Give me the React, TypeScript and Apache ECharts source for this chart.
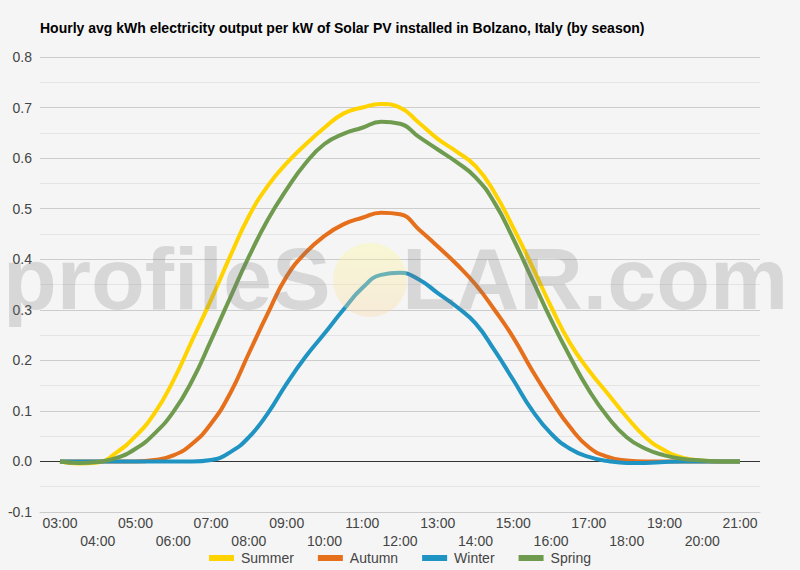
import React, { useEffect, useRef } from 'react';
import * as echarts from 'echarts';

// half-hourly time slots, 03:00 .. 21:00
const times = [
  '03:00', '03:30', '04:00', '04:30', '05:00', '05:30', '06:00', '06:30', '07:00', '07:30',
  '08:00', '08:30', '09:00', '09:30', '10:00', '10:30', '11:00', '11:30', '12:00', '12:30',
  '13:00', '13:30', '14:00', '14:30', '15:00', '15:30', '16:00', '16:30', '17:00', '17:30',
  '18:00', '18:30', '19:00', '19:30', '20:00', '20:30', '21:00'
];

const summer = [
  0, -0.004, -0.002, 0.018, 0.05, 0.095, 0.16, 0.24, 0.32, 0.405,
  0.485, 0.545, 0.59, 0.627, 0.66, 0.688, 0.7, 0.707, 0.7, 0.67,
  0.638, 0.613, 0.584, 0.532, 0.462, 0.386, 0.306, 0.234, 0.18, 0.134,
  0.088, 0.048, 0.022, 0.007, 0.002, 0, 0
];
const autumn = [
  0, 0, 0, 0, 0, 0.003, 0.012, 0.035, 0.075, 0.134,
  0.214, 0.293, 0.366, 0.413, 0.446, 0.469, 0.482, 0.492, 0.489, 0.459,
  0.425, 0.39, 0.35, 0.3, 0.245, 0.18, 0.121, 0.068, 0.028, 0.009,
  0.002, 0, 0, 0, 0, 0, 0
];
const winter = [
  0, 0, 0, 0, 0, 0, 0, 0, 0.003, 0.018,
  0.048, 0.095, 0.154, 0.207, 0.253, 0.3, 0.343, 0.369, 0.373, 0.36,
  0.333, 0.306, 0.273, 0.22, 0.161, 0.101, 0.055, 0.025, 0.009, 0.001,
  -0.003, -0.003, -0.001, 0, 0, 0, 0
];
const spring = [
  0, -0.003, -0.001, 0.007, 0.025, 0.055, 0.098, 0.16, 0.24, 0.323,
  0.405, 0.478, 0.538, 0.59, 0.628, 0.648, 0.66, 0.672, 0.668, 0.642,
  0.617, 0.592, 0.562, 0.512, 0.44, 0.36, 0.28, 0.207, 0.141, 0.088,
  0.048, 0.025, 0.012, 0.005, 0.002, 0, 0
];

const seriesDefs = [
  { name: 'Summer', data: summer, color: '#ffd300' },
  { name: 'Autumn', data: autumn, color: '#e66f1c' },
  { name: 'Winter', data: winter, color: '#1f93c2' },
  { name: 'Spring', data: spring, color: '#6f9b4f' }
];

const TITLE = 'Hourly avg kWh electricity output per kW of Solar PV installed in Bolzano, Italy (by season)';
const FONT = 'Arial, "Liberation Sans", sans-serif';

const App: React.FC = () => {
  const chartRef = useRef<HTMLDivElement>(null);

  useEffect(() => {
    if (!chartRef.current) return;
    const chart = echarts.init(chartRef.current, undefined, { renderer: 'svg' });

    // zero line black, the rest light grey
    const gridColors = ['#cccccc', '#333333', '#cccccc', '#cccccc', '#cccccc', '#cccccc', '#cccccc', '#cccccc', '#cccccc', '#cccccc'];

    chart.setOption({
      animation: false,
      backgroundColor: '#f5f5f5',
      textStyle: { fontFamily: FONT },
      title: {
        text: TITLE,
        left: 35,
        top: 16,
        textStyle: { fontSize: 14, fontWeight: 'bold', color: '#000' }
      },
      legend: {
        bottom: 0,
        left: 'center',
        icon: 'rect',
        itemWidth: 25,
        itemHeight: 6,
        itemGap: 24,
        textStyle: { fontSize: 14, color: '#444', padding: [0, 0, 0, 2] },
        data: seriesDefs.map(s => s.name)
      },
      grid: [
        { left: 40, right: 40, top: 57, bottom: 58 },
        { left: 60, right: 60, top: 57, bottom: 58 }
      ],
      xAxis: [
        {
          type: 'category',
          gridIndex: 0,
          data: times,
          axisTick: { show: false },
          axisLabel: { show: false },
          axisLine: { onZero: false, lineStyle: { color: '#cccccc' } }
        },
        {
          type: 'category',
          gridIndex: 1,
          data: times,
          boundaryGap: false,
          axisTick: { show: false },
          axisLine: { show: false },
          axisLabel: {
            interval: 1,
            margin: 2,
            fontSize: 14,
            color: '#444',
            lineHeight: 18,
            formatter: (v: string, i: number) => ((i / 2) % 2 ? '\n' + v : v)
          }
        }
      ],
      yAxis: [
        {
          type: 'value',
          gridIndex: 0,
          min: -0.1,
          max: 0.8,
          interval: 0.1,
          axisLine: { show: false },
          axisTick: { show: false },
          axisLabel: {
            fontSize: 14,
            color: '#444',
            margin: 8,
            formatter: (v: number) => v.toFixed(1)
          },
          splitLine: { lineStyle: { color: gridColors, width: 1 } },
          minorTick: { show: false, splitNumber: 2 },
          minorSplitLine: { show: true, lineStyle: { color: '#e4e4e4' } }
        },
        {
          type: 'value',
          gridIndex: 1,
          min: -0.1,
          max: 0.8,
          interval: 0.1,
          show: false,
          splitLine: { show: false }
        }
      ],
      series: seriesDefs.map(s => ({
        name: s.name,
        type: 'line',
        xAxisIndex: 1,
        yAxisIndex: 1,
        data: s.data,
        smooth: 0.5,
        symbol: 'none',
        color: s.color,
        lineStyle: { width: 4, color: s.color }
      })),
      graphic: [
        {
          type: 'circle',
          z: 100,
          shape: { cx: 370, cy: 280, r: 37 },
          style: {
            fill: new echarts.graphic.LinearGradient(0, 0, 0, 1, [
              { offset: 0, color: 'rgba(252,250,150,0.35)' },
              { offset: 1, color: 'rgba(250,215,165,0.35)' }
            ])
          }
        },
        {
          type: 'text',
          z: 101,
          x: 3,
          y: 234,
          style: {
            text: 'profileS',
            font: 'bold 88px ' + FONT,
            fill: 'rgba(120,120,120,0.24)',
            verticalAlign: 'top'
          }
        },
        {
          type: 'text',
          z: 101,
          x: 402,
          y: 234,
          style: {
            text: 'LAR.com',
            font: 'bold 88px ' + FONT,
            fill: 'rgba(120,120,120,0.24)',
            verticalAlign: 'top'
          }
        }
      ]
    });

    return () => {
      chart.dispose();
    };
  }, []);

  return (
    <div
      ref={chartRef}
      style={{ position: 'fixed', left: 0, top: 0, width: '800px', height: '570px' }}
    />
  );
};

export default App;
